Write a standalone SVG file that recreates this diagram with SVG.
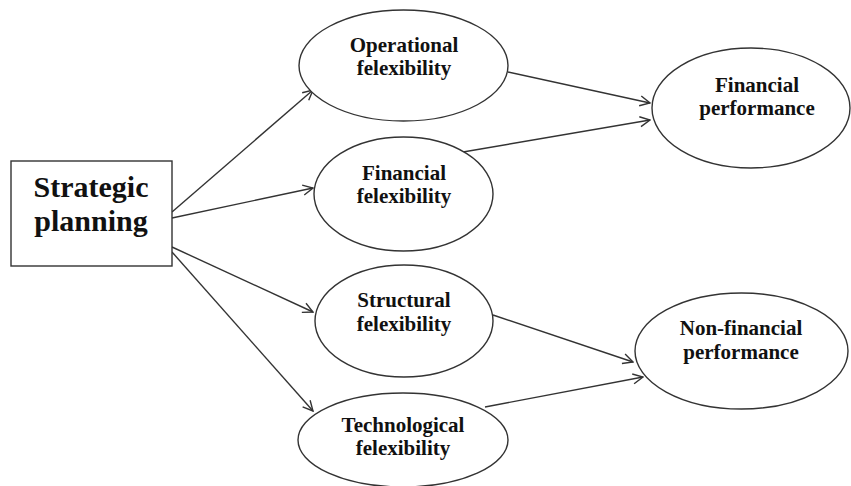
<svg xmlns="http://www.w3.org/2000/svg" width="851" height="486" viewBox="0 0 851 486">
<style>
.shape{fill:#fff;stroke:#333;stroke-width:1.4}
.lbl{font-family:"Liberation Serif","Times New Roman",serif;font-weight:bold;font-size:21px;fill:#111;text-anchor:middle}
.big{font-size:30px}
.edge{stroke:#333;stroke-width:1.4;fill:none;marker-end:url(#arr)}
</style>
<defs>
<marker id="arr" viewBox="0 0 12 12" refX="11" refY="6" markerWidth="12" markerHeight="12" markerUnits="userSpaceOnUse" orient="auto">
<path d="M1,1 L11,6 L1,11" fill="none" stroke="#333" stroke-width="1.4"/>
</marker>
</defs>
<rect width="851" height="486" fill="#fff"/>
<g id="connectors">
<line class="edge" x1="172" y1="212" x2="313" y2="90"/>
<line class="edge" x1="172" y1="218" x2="313" y2="188"/>
<line class="edge" x1="172" y1="247" x2="313" y2="312"/>
<line class="edge" x1="172" y1="252" x2="313" y2="411"/>
<line class="edge" x1="508" y1="72" x2="650" y2="103"/>
<line class="edge" x1="463" y1="152" x2="650" y2="120"/>
<line class="edge" x1="493" y1="315" x2="633" y2="362"/>
<line class="edge" x1="485" y1="407" x2="643" y2="377"/>
</g>
<g id="strategic">
<rect class="shape" x="11" y="161" width="161" height="105"/>
<text class="lbl big" x="91" y="197">Strategic</text>
<text class="lbl big" x="91" y="231">planning</text>
</g>
<g id="operational">
<ellipse class="shape" cx="403.5" cy="65.5" rx="104.5" ry="55.5"/>
<text class="lbl" x="404" y="52">Operational</text>
<text class="lbl" x="404" y="75">felexibility</text>
</g>
<g id="financial">
<ellipse class="shape" cx="403.5" cy="194" rx="89.5" ry="57"/>
<text class="lbl" x="404" y="180">Financial</text>
<text class="lbl" x="404" y="203">felexibility</text>
</g>
<g id="structural">
<ellipse class="shape" cx="404" cy="321" rx="89" ry="56"/>
<text class="lbl" x="404" y="307">Structural</text>
<text class="lbl" x="404" y="331">felexibility</text>
</g>
<g id="technological">
<ellipse class="shape" cx="403" cy="440" rx="105" ry="47"/>
<text class="lbl" x="403" y="432">Technological</text>
<text class="lbl" x="403" y="455">felexibility</text>
</g>
<g id="finperf">
<ellipse class="shape" cx="751" cy="108" rx="99" ry="60"/>
<text class="lbl" x="757" y="92">Financial</text>
<text class="lbl" x="757" y="115">performance</text>
</g>
<g id="nonfinperf">
<ellipse class="shape" cx="741.5" cy="351" rx="106.5" ry="58"/>
<text class="lbl" x="741" y="335">Non-financial</text>
<text class="lbl" x="741" y="359">performance</text>
</g>
</svg>
